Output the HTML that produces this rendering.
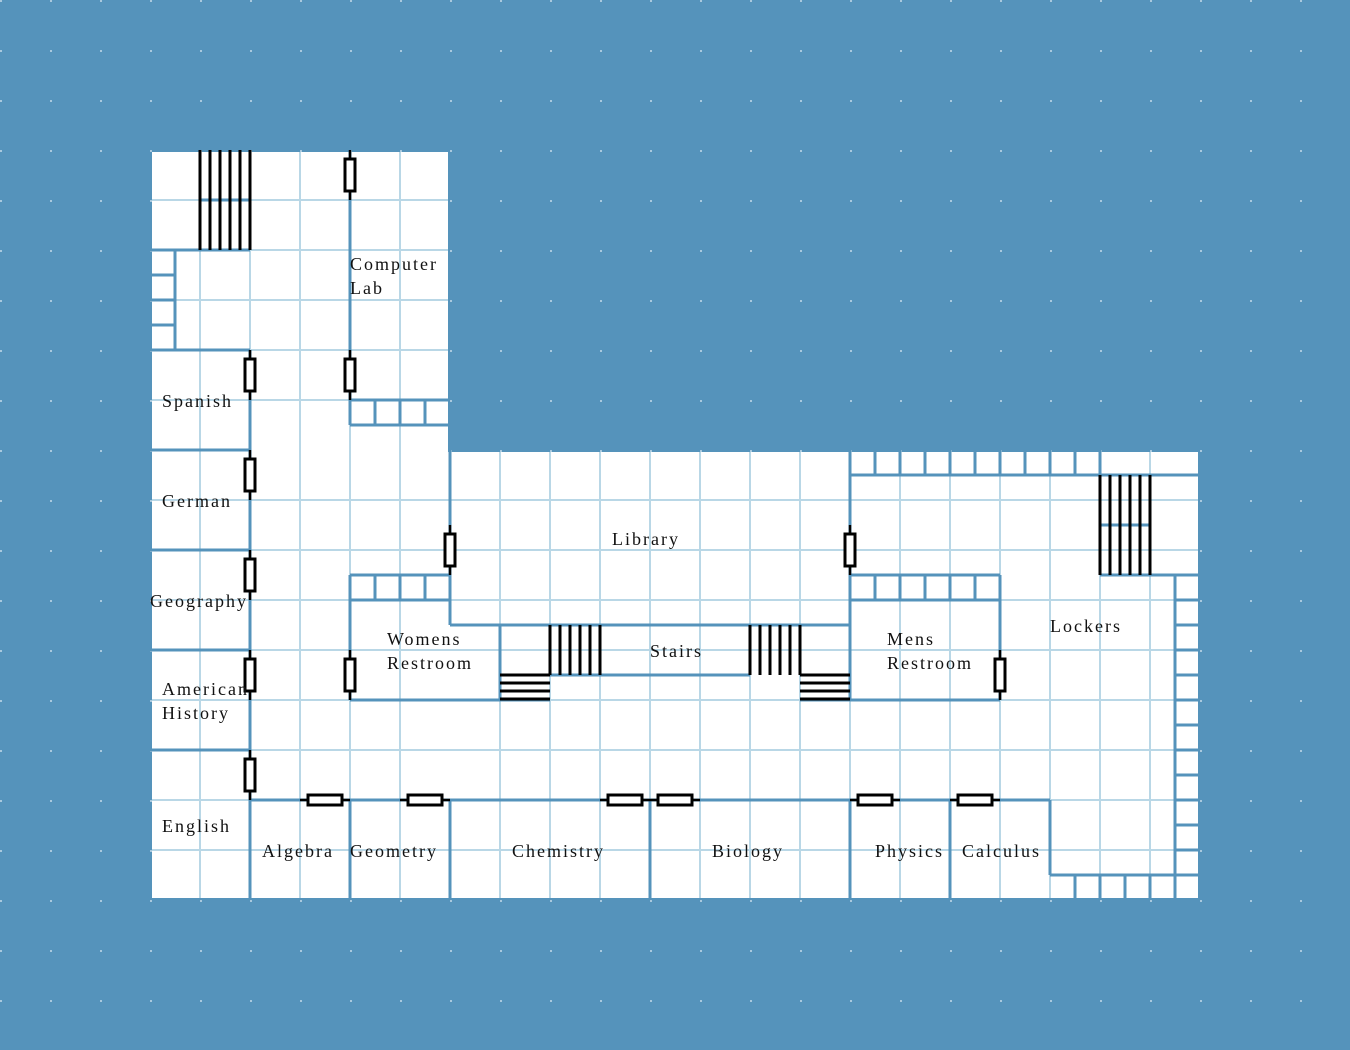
<!DOCTYPE html>
<html><head><meta charset="utf-8">
<style>
html,body{margin:0;padding:0;background:#5593bb;}
svg{display:block}
text{font-family:"Liberation Serif",serif;font-size:18px;fill:#111;letter-spacing:2px;}
</style></head>
<body>
<svg width="1350" height="1050" viewBox="0 0 1350 1050" xmlns="http://www.w3.org/2000/svg">
<defs>
<pattern id="dots" x="0" y="0" width="50" height="50" patternUnits="userSpaceOnUse">
<rect x="0" y="0" width="2" height="2" fill="#a9c9de"/>
</pattern>
<g id="dv"><line x1="0" y1="-25" x2="0" y2="25" stroke="#000" stroke-width="2.5"/><rect x="-5" y="-16" width="10" height="32" fill="#fff" stroke="#000" stroke-width="3"/></g>
<g id="dh"><line x1="-25" y1="0" x2="25" y2="0" stroke="#000" stroke-width="2.5"/><rect x="-17" y="-5" width="34" height="10" fill="#fff" stroke="#000" stroke-width="3"/></g>
</defs>
<rect width="1350" height="1050" fill="#5593bb"/>
<rect width="1350" height="1050" fill="url(#dots)"/>
<path d="M152 152 H448 V452 H1198 V898 H152 Z" fill="#fff"/>
<g stroke="#b9d7e6" stroke-width="2">
<line x1="200" y1="152" x2="200" y2="898"/><line x1="250" y1="152" x2="250" y2="898"/>
<line x1="300" y1="152" x2="300" y2="898"/><line x1="350" y1="152" x2="350" y2="898"/>
<line x1="400" y1="152" x2="400" y2="898"/>
<line x1="500" y1="452" x2="500" y2="898"/><line x1="550" y1="452" x2="550" y2="898"/>
<line x1="600" y1="452" x2="600" y2="898"/><line x1="650" y1="452" x2="650" y2="898"/>
<line x1="700" y1="452" x2="700" y2="898"/><line x1="750" y1="452" x2="750" y2="898"/>
<line x1="800" y1="452" x2="800" y2="898"/><line x1="850" y1="452" x2="850" y2="898"/>
<line x1="900" y1="452" x2="900" y2="898"/><line x1="950" y1="452" x2="950" y2="898"/>
<line x1="1000" y1="452" x2="1000" y2="898"/><line x1="1050" y1="452" x2="1050" y2="898"/>
<line x1="1100" y1="452" x2="1100" y2="898"/><line x1="1150" y1="452" x2="1150" y2="898"/>
<line x1="152" y1="200" x2="448" y2="200"/><line x1="152" y1="250" x2="448" y2="250"/>
<line x1="152" y1="300" x2="448" y2="300"/><line x1="152" y1="350" x2="448" y2="350"/>
<line x1="152" y1="400" x2="448" y2="400"/>
<line x1="152" y1="500" x2="1198" y2="500"/><line x1="152" y1="550" x2="1198" y2="550"/>
<line x1="152" y1="600" x2="1198" y2="600"/><line x1="152" y1="650" x2="1198" y2="650"/>
<line x1="152" y1="700" x2="1198" y2="700"/><line x1="152" y1="750" x2="1198" y2="750"/>
<line x1="152" y1="800" x2="1198" y2="800"/><line x1="152" y1="850" x2="1198" y2="850"/>
</g>
<g stroke="#5593bb" stroke-width="3" fill="none">
<line x1="200" y1="200" x2="250" y2="200"/><line x1="150" y1="250" x2="250" y2="250"/>
<line x1="175" y1="250" x2="175" y2="350"/>
<line x1="150" y1="275" x2="175" y2="275"/><line x1="150" y1="300" x2="175" y2="300"/><line x1="150" y1="325" x2="175" y2="325"/>
<line x1="150" y1="350" x2="250" y2="350"/>
<line x1="250" y1="350" x2="250" y2="900"/>
<line x1="150" y1="450" x2="250" y2="450"/><line x1="150" y1="550" x2="250" y2="550"/>
<line x1="150" y1="650" x2="250" y2="650"/><line x1="150" y1="750" x2="250" y2="750"/>
<line x1="350" y1="150" x2="350" y2="425"/>
<line x1="350" y1="400" x2="450" y2="400"/><line x1="350" y1="425" x2="450" y2="425"/>
<line x1="375" y1="400" x2="375" y2="425"/><line x1="400" y1="400" x2="400" y2="425"/><line x1="425" y1="400" x2="425" y2="425"/>
<line x1="450" y1="450" x2="450" y2="625"/>
<line x1="450" y1="625" x2="850" y2="625"/>
<line x1="850" y1="450" x2="850" y2="700"/>
<line x1="350" y1="575" x2="450" y2="575"/><line x1="350" y1="600" x2="450" y2="600"/>
<line x1="375" y1="575" x2="375" y2="600"/><line x1="400" y1="575" x2="400" y2="600"/><line x1="425" y1="575" x2="425" y2="600"/>
<line x1="350" y1="575" x2="350" y2="700"/>
<line x1="350" y1="700" x2="550" y2="700"/>
<line x1="500" y1="625" x2="500" y2="700"/>
<line x1="550" y1="675" x2="750" y2="675"/>
<line x1="800" y1="700" x2="1000" y2="700"/>
<line x1="850" y1="575" x2="1000" y2="575"/><line x1="850" y1="600" x2="1000" y2="600"/>
<line x1="875" y1="575" x2="875" y2="600"/><line x1="900" y1="575" x2="900" y2="600"/>
<line x1="925" y1="575" x2="925" y2="600"/><line x1="950" y1="575" x2="950" y2="600"/><line x1="975" y1="575" x2="975" y2="600"/>
<line x1="1000" y1="575" x2="1000" y2="700"/>
<line x1="850" y1="475" x2="1200" y2="475"/>
<line x1="875" y1="450" x2="875" y2="475"/><line x1="900" y1="450" x2="900" y2="475"/>
<line x1="925" y1="450" x2="925" y2="475"/><line x1="950" y1="450" x2="950" y2="475"/>
<line x1="975" y1="450" x2="975" y2="475"/><line x1="1000" y1="450" x2="1000" y2="475"/>
<line x1="1025" y1="450" x2="1025" y2="475"/><line x1="1050" y1="450" x2="1050" y2="475"/>
<line x1="1075" y1="450" x2="1075" y2="475"/><line x1="1100" y1="450" x2="1100" y2="475"/>
<line x1="1100" y1="525" x2="1150" y2="525"/>
<line x1="1100" y1="575" x2="1200" y2="575"/>
<line x1="1175" y1="575" x2="1175" y2="875"/>
<line x1="1175" y1="600" x2="1200" y2="600"/><line x1="1175" y1="625" x2="1200" y2="625"/>
<line x1="1175" y1="650" x2="1200" y2="650"/><line x1="1175" y1="675" x2="1200" y2="675"/>
<line x1="1175" y1="700" x2="1200" y2="700"/><line x1="1175" y1="725" x2="1200" y2="725"/>
<line x1="1175" y1="750" x2="1200" y2="750"/><line x1="1175" y1="775" x2="1200" y2="775"/>
<line x1="1175" y1="800" x2="1200" y2="800"/><line x1="1175" y1="825" x2="1200" y2="825"/>
<line x1="1175" y1="850" x2="1200" y2="850"/>
<line x1="1050" y1="875" x2="1200" y2="875"/>
<line x1="1075" y1="875" x2="1075" y2="900"/><line x1="1100" y1="875" x2="1100" y2="900"/>
<line x1="1125" y1="875" x2="1125" y2="900"/><line x1="1150" y1="875" x2="1150" y2="900"/>
<line x1="1175" y1="875" x2="1175" y2="900"/>
<line x1="1050" y1="800" x2="1050" y2="875"/>
<line x1="250" y1="800" x2="1050" y2="800"/>
<line x1="350" y1="800" x2="350" y2="900"/><line x1="450" y1="800" x2="450" y2="900"/>
<line x1="650" y1="800" x2="650" y2="900"/><line x1="850" y1="800" x2="850" y2="900"/>
<line x1="950" y1="800" x2="950" y2="900"/>
</g>
<g stroke="#000" stroke-width="3" fill="none">
<line x1="200" y1="150" x2="200" y2="250"/><line x1="210" y1="150" x2="210" y2="250"/>
<line x1="220" y1="150" x2="220" y2="250"/><line x1="230" y1="150" x2="230" y2="250"/>
<line x1="240" y1="150" x2="240" y2="250"/><line x1="250" y1="150" x2="250" y2="250"/>
<line x1="550" y1="625" x2="550" y2="675"/><line x1="560" y1="625" x2="560" y2="675"/>
<line x1="570" y1="625" x2="570" y2="675"/><line x1="580" y1="625" x2="580" y2="675"/>
<line x1="590" y1="625" x2="590" y2="675"/><line x1="600" y1="625" x2="600" y2="675"/>
<line x1="750" y1="625" x2="750" y2="675"/><line x1="760" y1="625" x2="760" y2="675"/>
<line x1="770" y1="625" x2="770" y2="675"/><line x1="780" y1="625" x2="780" y2="675"/>
<line x1="790" y1="625" x2="790" y2="675"/><line x1="800" y1="625" x2="800" y2="675"/>
<line x1="500" y1="675" x2="550" y2="675"/><line x1="500" y1="683" x2="550" y2="683"/>
<line x1="500" y1="691" x2="550" y2="691"/><line x1="500" y1="699" x2="550" y2="699"/>
<line x1="800" y1="675" x2="850" y2="675"/><line x1="800" y1="683" x2="850" y2="683"/>
<line x1="800" y1="691" x2="850" y2="691"/><line x1="800" y1="699" x2="850" y2="699"/>
<line x1="1100" y1="475" x2="1100" y2="575"/><line x1="1110" y1="475" x2="1110" y2="575"/>
<line x1="1120" y1="475" x2="1120" y2="575"/><line x1="1130" y1="475" x2="1130" y2="575"/>
<line x1="1140" y1="475" x2="1140" y2="575"/><line x1="1150" y1="475" x2="1150" y2="575"/>
</g>
<use href="#dv" x="350" y="175"/><use href="#dv" x="350" y="375"/>
<use href="#dv" x="250" y="375"/><use href="#dv" x="250" y="475"/>
<use href="#dv" x="250" y="575"/><use href="#dv" x="250" y="675"/>
<use href="#dv" x="250" y="775"/><use href="#dv" x="350" y="675"/>
<use href="#dv" x="450" y="550"/><use href="#dv" x="850" y="550"/>
<use href="#dv" x="1000" y="675"/>
<use href="#dh" x="325" y="800"/><use href="#dh" x="425" y="800"/>
<use href="#dh" x="625" y="800"/><use href="#dh" x="675" y="800"/>
<use href="#dh" x="875" y="800"/><use href="#dh" x="975" y="800"/>
<text x="350" y="270">Computer</text><text x="350" y="294">Lab</text>
<text x="162" y="407">Spanish</text>
<text x="162" y="507">German</text>
<text x="150" y="607">Geography</text>
<text x="162" y="695">American</text><text x="162" y="719">History</text>
<text x="162" y="832">English</text>
<text x="262" y="857">Algebra</text>
<text x="350" y="857">Geometry</text>
<text x="512" y="857">Chemistry</text>
<text x="712" y="857">Biology</text>
<text x="875" y="857">Physics</text>
<text x="962" y="857">Calculus</text>
<text x="612" y="545">Library</text>
<text x="387" y="645">Womens</text><text x="387" y="669">Restroom</text>
<text x="650" y="657">Stairs</text>
<text x="887" y="645">Mens</text><text x="887" y="669">Restroom</text>
<text x="1050" y="632">Lockers</text>
</svg>
</body></html>
